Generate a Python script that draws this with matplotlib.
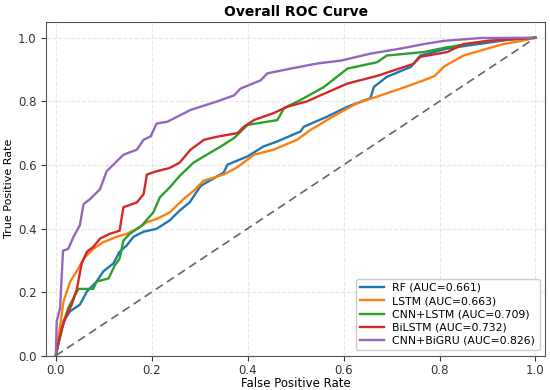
import matplotlib
matplotlib.use("Agg")
import matplotlib.pyplot as plt

# ROC points (fpr, tpr)
rf_fpr = [0.0, 0.005, 0.016, 0.03, 0.05, 0.065, 0.085, 0.099, 0.12, 0.133, 0.148, 0.162,
          0.183, 0.21, 0.237, 0.258, 0.279, 0.302, 0.35, 0.358, 0.40, 0.433, 0.462, 0.51,
          0.517, 0.566, 0.608, 0.656, 0.663, 0.69, 0.74, 0.76, 0.816, 0.88, 0.95, 1.0]
rf_tpr = [0.0, 0.035, 0.109, 0.14, 0.16, 0.202, 0.233, 0.265, 0.29, 0.327, 0.347, 0.374,
          0.39, 0.399, 0.425, 0.456, 0.482, 0.534, 0.576, 0.601, 0.627, 0.658, 0.674, 0.705,
          0.72, 0.752, 0.783, 0.81, 0.845, 0.877, 0.908, 0.944, 0.966, 0.98, 0.995, 1.0]

lstm_fpr = [0.0, 0.009, 0.016, 0.03, 0.047, 0.058, 0.078, 0.099, 0.127, 0.148, 0.175, 0.19,
            0.21, 0.237, 0.266, 0.287, 0.308, 0.35, 0.378, 0.413, 0.454, 0.503, 0.531, 0.573,
            0.628, 0.67, 0.719, 0.767, 0.79, 0.81, 0.85, 0.90, 0.933, 0.97, 1.0]
lstm_tpr = [0.0, 0.093, 0.17, 0.233, 0.274, 0.305, 0.336, 0.357, 0.374, 0.383, 0.404, 0.42,
            0.43, 0.45, 0.492, 0.518, 0.55, 0.57, 0.592, 0.632, 0.648, 0.679, 0.71, 0.748,
            0.794, 0.815, 0.84, 0.866, 0.88, 0.91, 0.944, 0.966, 0.98, 0.99, 1.0]

cnnlstm_fpr = [0.0, 0.005, 0.019, 0.026, 0.047, 0.078, 0.085, 0.11, 0.123, 0.133, 0.141, 0.154,
               0.179, 0.203, 0.217, 0.238, 0.258, 0.287, 0.309, 0.344, 0.372, 0.40, 0.462,
               0.476, 0.51, 0.559, 0.608, 0.67, 0.69, 0.767, 0.816, 0.90, 1.0]
cnnlstm_tpr = [0.0, 0.035, 0.118, 0.15, 0.21, 0.21, 0.233, 0.243, 0.284, 0.305, 0.362, 0.383,
               0.409, 0.45, 0.498, 0.53, 0.565, 0.607, 0.627, 0.658, 0.685, 0.726, 0.741,
               0.779, 0.804, 0.845, 0.903, 0.923, 0.944, 0.955, 0.97, 0.99, 1.0]

bilstm_fpr = [0.0, 0.003, 0.0125, 0.023, 0.033, 0.044, 0.054, 0.065, 0.078, 0.092, 0.112, 0.133,
              0.141, 0.169, 0.183, 0.19, 0.21, 0.237, 0.258, 0.281, 0.309, 0.337, 0.379, 0.392,
              0.413, 0.454, 0.483, 0.524, 0.552, 0.608, 0.67, 0.746, 0.76, 0.816, 0.85, 0.90,
              0.97, 1.0]
bilstm_tpr = [0.0, 0.025, 0.087, 0.129, 0.16, 0.21, 0.29, 0.327, 0.342, 0.368, 0.383, 0.393,
              0.467, 0.482, 0.508, 0.57, 0.58, 0.59, 0.607, 0.648, 0.679, 0.689, 0.70, 0.72,
              0.741, 0.763, 0.783, 0.80, 0.819, 0.856, 0.88, 0.918, 0.94, 0.955, 0.98, 0.99,
              0.997, 1.0]

bigru_fpr = [0.0, 0.002, 0.009, 0.015, 0.026, 0.037, 0.05, 0.058, 0.071, 0.092, 0.106, 0.141,
             0.169, 0.183, 0.198, 0.21, 0.233, 0.281, 0.337, 0.372, 0.385, 0.427, 0.441, 0.49,
             0.545, 0.594, 0.656, 0.719, 0.767, 0.808, 0.885, 1.0]
bigru_tpr = [0.0, 0.109, 0.15, 0.33, 0.336, 0.374, 0.41, 0.477, 0.492, 0.523, 0.58, 0.632,
             0.648, 0.679, 0.69, 0.73, 0.736, 0.773, 0.80, 0.819, 0.84, 0.866, 0.888, 0.903,
             0.919, 0.928, 0.95, 0.966, 0.98, 0.99, 0.999, 1.0]

model_names = ["RF", "LSTM", "CNN+LSTM", "BiLSTM", "CNN+BiGRU"]
auc_values = [0.661, 0.663, 0.709, 0.732, 0.826]
colors = ["tab:blue", "tab:orange", "tab:green", "tab:red", "tab:purple"]
curves = [(rf_fpr, rf_tpr), (lstm_fpr, lstm_tpr), (cnnlstm_fpr, cnnlstm_tpr),
          (bilstm_fpr, bilstm_tpr), (bigru_fpr, bigru_tpr)]

fig = plt.figure(figsize=(5.5, 3.9), dpi=100)
ax = fig.add_axes([0.084, 0.088, 0.907, 0.856])

for (fpr, tpr), name, auc, c in zip(curves, model_names, auc_values, colors):
    ax.plot(fpr, tpr, color=c, lw=1.7, label=f"{name} (AUC={auc:.3f})")

ax.plot([0, 1], [0, 1], linestyle=(0, (5, 3)), color="#666666", lw=1.2)

ax.set_xlim(-0.02, 1.02)
ax.set_ylim(0.0, 1.05)
ax.set_xticks([0.0, 0.2, 0.4, 0.6, 0.8, 1.0])
ax.set_yticks([0.0, 0.2, 0.4, 0.6, 0.8, 1.0])
ax.tick_params(labelsize=8.5, colors="#333333", pad=3.5)
ax.tick_params(axis="x", pad=2.5)
ax.grid(True, linestyle="--", alpha=0.3)
for s in ax.spines.values():
    s.set_color("#555555")

ax.set_xlabel("False Positive Rate", fontsize=8.5, labelpad=0)
ax.set_ylabel("True Positive Rate", fontsize=8, labelpad=3)
ax.set_title("Overall ROC Curve", fontsize=10, fontweight="bold", pad=4)
ax.legend(loc="lower right", fontsize=7.8, handlelength=2.2, borderpad=0.4,
          labelspacing=0.3, framealpha=1.0, edgecolor="#cccccc")

fig.savefig("out.png", dpi=100)
